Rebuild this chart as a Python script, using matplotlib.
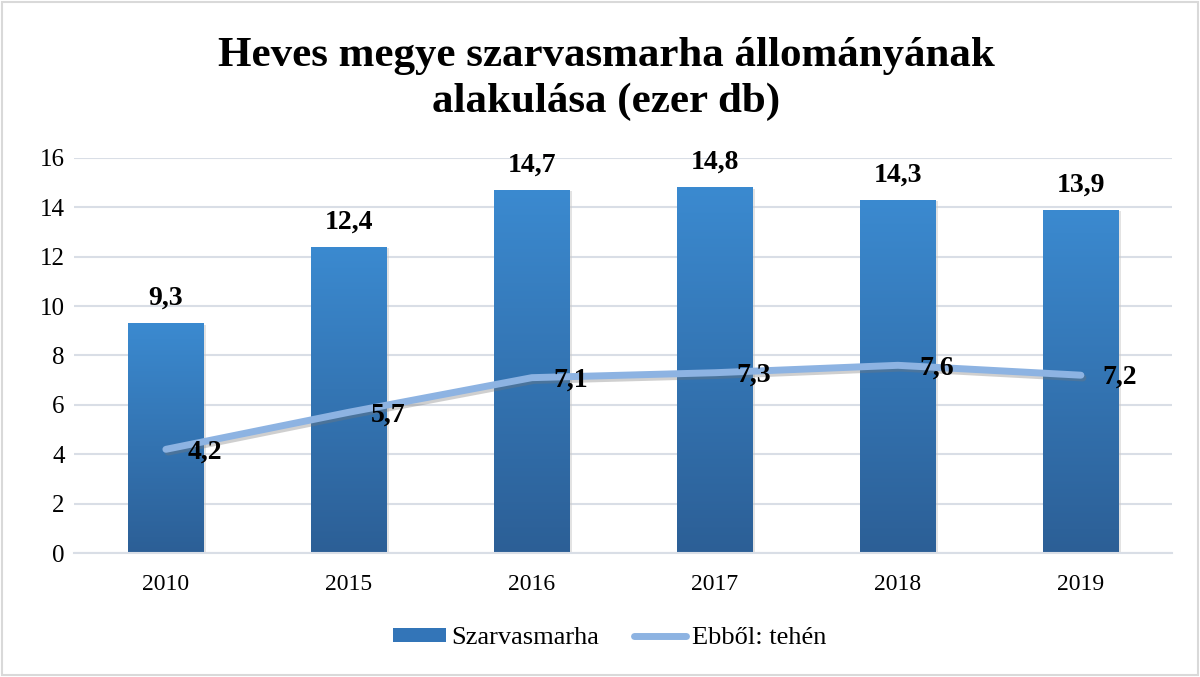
import numpy as np
import matplotlib.pyplot as plt
import matplotlib.patheffects as pe
from matplotlib.colors import LinearSegmentedColormap
from matplotlib.patches import Rectangle, Patch
from matplotlib.lines import Line2D

# --- data ---
years = ["2010", "2015", "2016", "2017", "2018", "2019"]
szarvasmarha = [9.3, 12.4, 14.7, 14.8, 14.3, 13.9]
teheny = [4.2, 5.7, 7.1, 7.3, 7.6, 7.2]

plt.rcParams['font.family'] = ['Liberation Serif', 'DejaVu Serif']

fig = plt.figure(figsize=(12, 6.77), dpi=100)
ax = fig.add_axes([0.062, 0.183, 0.915, 0.584])

x = np.arange(len(years))
bar_w = 0.415
bars = ax.bar(x, szarvasmarha, width=bar_w, color='#3479BD', zorder=2)

# vertical gradient inside each bar (lighter on top)
cmap = LinearSegmentedColormap.from_list('bar', ['#2C5F96', '#3B8AD0'])
grad = np.linspace(0, 1, 256).reshape(-1, 1)
for b in bars:
    x0, y0 = b.get_x(), b.get_y()
    w, h = b.get_width(), b.get_height()
    im = ax.imshow(grad, cmap=cmap, origin='lower', aspect='auto',
                   extent=[x0, x0 + w, y0, y0 + h], zorder=2)
    im.set_clip_path(b)
    b.set_facecolor('none')
    # soft shadow at the right/bottom
    ax.add_patch(Rectangle((x0 + 0.012, y0 - 0.05), w, h, facecolor='#c8c8c8',
                           edgecolor='none', alpha=0.5, zorder=1.5))

ax.plot(x, teheny, color='#8DB3E2', lw=5, solid_capstyle='round', zorder=3,
        path_effects=[pe.SimpleLineShadow(offset=(1.5, -2), shadow_color='#777777', alpha=0.35),
                      pe.Normal()])

for xi, v in zip(x, szarvasmarha):
    ax.text(xi, v + 0.5, f"{v:.1f}".replace('.', ','), ha='center', va='bottom',
            fontsize=20, fontweight='bold', zorder=4)
for xi, v in zip(x, teheny):
    ax.text(xi + 0.12, v - 0.1, f"{v:.1f}".replace('.', ','), ha='left', va='center',
            fontsize=20, fontweight='bold', zorder=4)

ax.set_xlim(-0.5, len(years) - 0.5)
ax.set_ylim(0, 16)
ax.set_yticks(range(0, 17, 2))
ax.set_xticks(x)
ax.set_xticklabels(years)
ax.tick_params(axis='x', length=0, labelsize=17, pad=15)
ax.tick_params(axis='y', length=0, labelsize=18, pad=7)
ax.yaxis.grid(True, color='#D9DEE6', lw=1.5, zorder=0)
ax.set_axisbelow(True)
for s in ax.spines.values():
    s.set_visible(False)
ax.spines['bottom'].set_visible(True)
ax.spines['bottom'].set_color('#D9DEE6')
ax.spines['bottom'].set_linewidth(1.5)

fig.text(0.505, 0.883, "Heves megye szarvasmarha állományának\nalakulása (ezer db)",
         ha='center', va='center', fontsize=31, fontweight='bold', linespacing=1.25)

handles = [Patch(facecolor='#3375B8', edgecolor='none', label='Szarvasmarha'),
           Line2D([0], [0], color='#8DB3E2', lw=5, solid_capstyle='round', label='Ebből: tehén')]
fig.legend(handles=handles, loc='center', bbox_to_anchor=(0.508, 0.057), ncol=2,
           frameon=False, fontsize=19, handlelength=2.0, handleheight=0.45,
           columnspacing=1.3, handletextpad=0.2)

# outer border
fig.add_artist(Rectangle((0.002, 0.003), 0.996, 0.994, transform=fig.transFigure,
                         fill=False, edgecolor='#D9D9D9', lw=1.5))

fig.savefig('out.png', dpi=100)
